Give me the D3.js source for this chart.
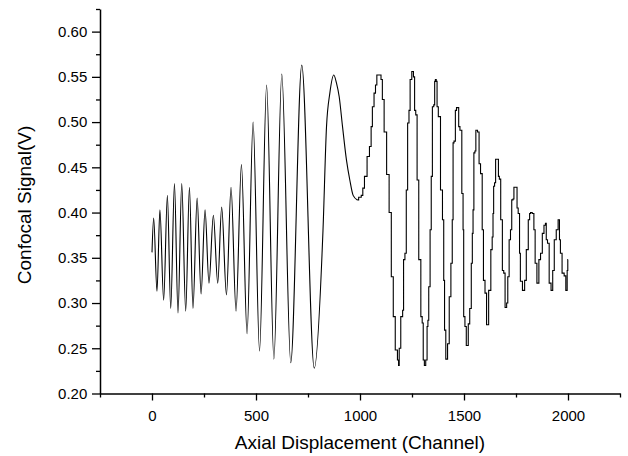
<!DOCTYPE html>
<html>
<head>
<meta charset="utf-8">
<script src="https://cdn.jsdelivr.net/npm/d3@7/dist/d3.min.js"></script>
<style>
  html, body { margin: 0; padding: 0; background: #fff; }
  svg { display: block; }
  text { font-family: "Liberation Sans", Arial, sans-serif; fill: #000; }
</style>
</head>
<body>
<svg id="chart" width="628" height="456"></svg>
<script>
// Smooth interference fringes (channel, volts)
const smoothChannel = [0, 8, 24, 38, 56, 74, 90, 108, 125, 143, 162, 180, 197, 217, 236, 255, 274, 295,
  316, 335, 358, 380, 404, 430, 457, 486, 517, 551, 586, 624, 667, 720, 780, 822, 839, 855, 874, 887,
  900, 916, 935, 951, 967, 987];
const smoothSignal = [0.356, 0.394, 0.313, 0.403, 0.303, 0.419, 0.294, 0.432, 0.289, 0.432, 0.291, 0.428,
  0.294, 0.416, 0.310, 0.403, 0.322, 0.397, 0.322, 0.406, 0.309, 0.428, 0.291, 0.453, 0.266, 0.500,
  0.247, 0.541, 0.238, 0.553, 0.234, 0.563, 0.228, 0.380, 0.495, 0.532, 0.552, 0.543, 0.528, 0.495,
  0.458, 0.436, 0.419, 0.414];

// Coarsely sampled fringes after the hump (channel, volts)
const stepChannel = [987, 1000, 1012, 1015, 1028, 1040, 1051, 1056, 1063, 1072, 1077, 1085, 1099, 1103,
  1112, 1120, 1136, 1144, 1157, 1163, 1176, 1184, 1187,
  1190, 1202, 1208, 1211, 1221, 1224, 1234, 1237, 1245, 1253, 1261, 1264, 1272, 1277, 1288, 1297, 1301, 1307, 1312,
  1320, 1325, 1328, 1333, 1341, 1344, 1352, 1357, 1361, 1364, 1369, 1372, 1381, 1393, 1400, 1405, 1408, 1417,
  1425, 1433, 1441, 1446, 1449, 1455, 1462, 1466, 1473, 1476, 1485, 1494, 1497, 1500, 1509, 1513, 1518,
  1523, 1532, 1538, 1542, 1545, 1550, 1555, 1559, 1571, 1574, 1585, 1590, 1597, 1605, 1612,
  1625, 1633, 1638, 1641, 1644, 1650, 1654, 1664, 1667, 1673, 1680, 1689, 1693, 1702,
  1708, 1713, 1721, 1726, 1733, 1738, 1742, 1754, 1756, 1765, 1769, 1773, 1789,
  1794, 1805, 1813, 1818, 1822, 1834, 1838, 1846, 1855, 1858,
  1862, 1874, 1879, 1890, 1893, 1898, 1905, 1914, 1923, 1930, 1938, 1949, 1956, 1962, 1965, 1978, 1985,
  1994, 1998, 2000];
const stepSignal = [0.414, 0.417, 0.419, 0.427, 0.440, 0.462, 0.473, 0.495, 0.517, 0.532, 0.541, 0.552, 0.552, 0.547,
  0.525, 0.489, 0.442, 0.400, 0.329, 0.285, 0.248, 0.237, 0.231,
  0.250, 0.285, 0.292, 0.348, 0.355, 0.425, 0.499, 0.513, 0.547, 0.556, 0.550, 0.513, 0.508, 0.436, 0.348, 0.285, 0.278, 0.237, 0.231,
  0.237, 0.274, 0.281, 0.318, 0.381, 0.440, 0.517, 0.519, 0.545, 0.547, 0.545, 0.517, 0.506, 0.425, 0.392, 0.325, 0.270, 0.238,
  0.255, 0.307, 0.344, 0.392, 0.477, 0.479, 0.513, 0.516, 0.516, 0.495, 0.491, 0.421, 0.381, 0.285, 0.274, 0.253, 0.253,
  0.277, 0.294, 0.344, 0.377, 0.403, 0.466, 0.468, 0.491, 0.489, 0.454, 0.443, 0.381, 0.325, 0.311, 0.276,
  0.314, 0.359, 0.373, 0.399, 0.429, 0.433, 0.459, 0.459, 0.440, 0.437, 0.392, 0.336, 0.333, 0.295,
  0.300, 0.329, 0.370, 0.381, 0.414, 0.415, 0.428, 0.428, 0.405, 0.399, 0.355, 0.324, 0.314,
  0.325, 0.359, 0.392, 0.399, 0.400, 0.399, 0.381, 0.344, 0.322, 0.322,
  0.348, 0.355, 0.377, 0.386, 0.388, 0.370, 0.366, 0.322, 0.314, 0.336, 0.370, 0.381, 0.392, 0.370, 0.355, 0.333, 0.330,
  0.314, 0.336, 0.348];

// Axis ticks
const xMajorTicks = [0, 500, 1000, 1500, 2000];
const xMinorTicks = [-250, 250, 750, 1250, 1750, 2250];
const yMajorTicks = [0.20, 0.25, 0.30, 0.35, 0.40, 0.45, 0.50, 0.55, 0.60];
const yMinorTicks = [0.225, 0.275, 0.325, 0.375, 0.425, 0.475, 0.525, 0.575, 0.625];

const xTitle = "Axial Displacement (Channel)";
const yTitle = "Confocal Signal(V)";

const svg = d3.select("#chart");
const plotLeft = 100, plotRight = 620, plotTop = 9, plotBottom = 393.5;

const x = d3.scaleLinear().domain([-250, 2250]).range([plotLeft, plotRight]);
const y = d3.scaleLinear().domain([0.20, 0.625]).range([plotBottom, plotTop]);

const smoothData = smoothChannel.map((c, i) => [c, smoothSignal[i]]);
const stepData = stepChannel.map((c, i) => [c, stepSignal[i]]);

const plot = svg.append("g");
plot.append("path")
  .datum(smoothData)
  .attr("fill", "none")
  .attr("stroke", "#000")
  .attr("stroke-width", 1.1)
  .attr("d", d3.line().x(d => x(d[0])).y(d => y(d[1])).curve(d3.curveMonotoneX));
// quantised channel readings: vertical runs joined by short jogs
plot.append("path")
  .datum(stepData)
  .attr("fill", "none")
  .attr("stroke", "#000")
  .attr("stroke-width", 1.1)
  .attr("d", d3.line().x(d => x(d[0])).y(d => y(d[1])).curve(d3.curveStep));

function styleAxis(g) {
  g.selectAll(".domain").attr("stroke", "#000").attr("stroke-width", 1.5);
  g.selectAll(".tick line").attr("stroke", "#000").attr("stroke-width", 1.3);
  g.selectAll(".tick text").style("font-size", "15px").attr("fill", "#000");
}

// x axis: minor then major
svg.append("g")
  .attr("transform", `translate(0,${plotBottom})`)
  .call(d3.axisBottom(x).tickValues(xMinorTicks).tickSize(4).tickSizeOuter(0).tickFormat(""))
  .call(styleAxis);
svg.append("g")
  .attr("transform", `translate(0,${plotBottom})`)
  .call(d3.axisBottom(x).tickValues(xMajorTicks).tickSize(7).tickPadding(9.5).tickSizeOuter(0).tickFormat(d3.format("d")))
  .call(styleAxis)
  .call(g => g.select(".domain").remove());

// y axis: minor then major
svg.append("g")
  .attr("transform", `translate(${plotLeft},0)`)
  .call(d3.axisLeft(y).tickValues(yMinorTicks).tickSize(4).tickSizeOuter(0).tickFormat(""))
  .call(styleAxis);
svg.append("g")
  .attr("transform", `translate(${plotLeft},0)`)
  .call(d3.axisLeft(y).tickValues(yMajorTicks).tickSize(8).tickPadding(4.7).tickSizeOuter(0).tickFormat(d3.format(".2f")))
  .call(styleAxis)
  .call(g => g.select(".domain").remove());

// axis titles
svg.append("text")
  .attr("x", (plotLeft + plotRight) / 2)
  .attr("y", 449)
  .attr("text-anchor", "middle")
  .style("font-size", "19px")
  .text(xTitle);
svg.append("text")
  .attr("transform", `translate(30.5,205) rotate(-90)`)
  .attr("text-anchor", "middle")
  .style("font-size", "19px")
  .text(yTitle);
</script>
</body>
</html>
